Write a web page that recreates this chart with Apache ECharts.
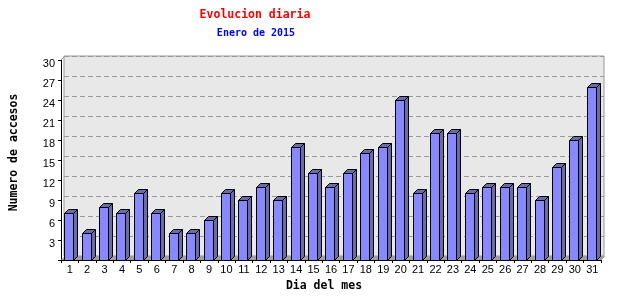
<!DOCTYPE html>
<html>
<head>
<meta charset="utf-8">
<script src="https://cdn.jsdelivr.net/npm/echarts@6/dist/echarts.min.js"></script>
<style>html,body{margin:0;padding:0;background:#fff}#c{width:640px;height:300px}</style>
</head>
<body>
<div id="c"></div>
<script>
const days = ['1','2','3','4','5','6','7','8','9','10','11','12','13','14','15','16','17','18','19','20','21','22','23','24','25','26','27','28','29','30','31'];
const accesos = [7,4,8,7,10,7,4,4,6,10,9,11,9,17,13,11,13,16,17,24,10,19,19,10,11,11,11,9,14,18,26];
const titleText = 'Evolucion diaria';
const subtitleText = 'Enero de 2015';
const yName = 'Numero de accesos';
const xName = 'Dia del mes';

const chart = echarts.init(document.getElementById('c'), null, {renderer: 'canvas'});
const D = 4;
const mono = '"DejaVu Sans Mono", monospace';
const sans = '"Liberation Sans", Arial, sans-serif';

chart.setOption({
  animation: false,
  title: [
    {text: titleText, left: 250, top: 4, textAlign: 'center',
     textStyle: {color: '#ff0000', fontFamily: mono, fontWeight: 'bold', fontSize: 11.5}},
    {text: subtitleText, left: 251, top: 23, textAlign: 'center',
     textStyle: {color: '#0000ff', fontFamily: mono, fontWeight: 'bold', fontSize: 10}}
  ],
  grid: [
    {left: 61, right: 39, top: 60, bottom: 40, show: false, containLabel: false, outerBoundsMode: 'none'},
    {left: 64, right: 36, top: 56, bottom: 44, show: true, backgroundColor: '#e8e8e8', borderColor: '#999', borderWidth: 1, z: 0, containLabel: false, outerBoundsMode: 'none'}
  ],
  xAxis: [
    {type: 'category', gridIndex: 0, data: days, offset: 0,
     axisLine: {lineStyle: {color: '#000', width: 1}},
     axisTick: {show: true, length: 3, lineStyle: {color: '#000'}},
     axisLabel: {color: '#000', fontFamily: sans, fontSize: 11, margin: 4, interval: 0},
     name: xName, nameLocation: 'middle', nameGap: 12,
     nameTextStyle: {color: '#000', fontFamily: mono, fontWeight: 'bold', fontSize: 11.5, padding: [0, 14, 0, 0]}},
    {type: 'value', gridIndex: 1, min: 0, max: 1, show: false}
  ],
  yAxis: [
    {type: 'value', gridIndex: 0, min: 0, max: 30, interval: 3,
     axisLine: {show: true, lineStyle: {color: '#000', width: 1}},
     axisTick: {show: true, length: 3, lineStyle: {color: '#000'}},
     axisLabel: {color: '#000', fontFamily: sans, fontSize: 11, margin: 6, verticalAlign: 'top', lineHeight: 7,
       formatter: v => v === 0 ? '' : String(v)},
     splitLine: {show: false},
     name: yName, nameLocation: 'middle', nameGap: 41, nameRotate: 90,
     nameTextStyle: {color: '#000', fontFamily: mono, fontWeight: 'bold', fontSize: 11.5, padding: [0, 0, 0, 15]}},
    {type: 'value', gridIndex: 1, min: 0, max: 30, interval: 3,
     axisLine: {show: false}, axisTick: {show: false}, axisLabel: {show: false},
     splitLine: {show: true, lineStyle: {color: '#999', type: [5, 3], width: 1}}}
  ],
  graphic: [
    {type: 'polygon', z: 1, silent: true,
     shape: {points: [[61, 260], [65, 256], [605, 256], [601, 260]]},
     style: {fill: '#a0a0a0', stroke: null}},
    {type: 'line', z: 1, silent: true,
     shape: {x1: 61, y1: 60, x2: 64.5, y2: 56.5}, style: {stroke: '#999', lineWidth: 1}},
    {type: 'line', z: 1, silent: true,
     shape: {x1: 601, y1: 260, x2: 604.5, y2: 256.5}, style: {stroke: '#999', lineWidth: 1}}
  ],
  series: [{
    type: 'custom', xAxisIndex: 0, yAxisIndex: 0, z: 5,
    data: accesos.map((v, i) => [i, v]),
    encode: {x: 0, y: 1},
    renderItem: function (params, api) {
      const i = api.value(0), v = api.value(1);
      const t = api.coord([i, v]);
      const b = api.coord([i, 0]);
      const band = api.size([1, 0])[0];
      const w = Math.round(band * 0.52);
      const x0 = Math.round(t[0] - w / 2 - 1) + 0.5;
      const yt = Math.round(t[1]) + 0.5;
      const yb = Math.round(b[1]) + 0.5;
      const stroke = {stroke: '#000', lineWidth: 1};
      return {
        type: 'group',
        children: [
          {type: 'polygon', shape: {points: [[x0, yt], [x0 + D, yt - D], [x0 + w + D, yt - D], [x0 + w, yt]]},
           style: Object.assign({fill: '#6b6bab'}, stroke)},
          {type: 'polygon', shape: {points: [[x0 + w, yt], [x0 + w + D, yt - D], [x0 + w + D, yb - D], [x0 + w, yb]]},
           style: Object.assign({fill: '#6b6bab'}, stroke)},
          {type: 'rect', shape: {x: x0, y: yt, width: w, height: yb - yt},
           style: Object.assign({fill: '#8888ff'}, stroke)}
        ]
      };
    }
  }]
});
</script>
</body>
</html>
